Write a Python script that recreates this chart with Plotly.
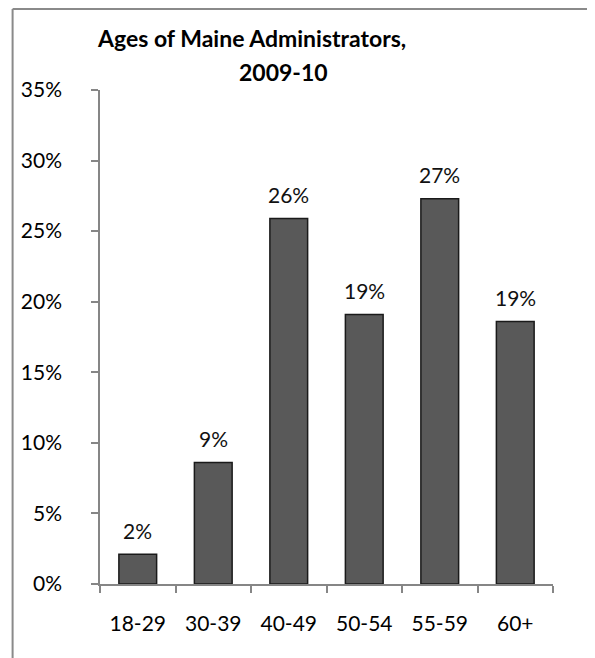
import plotly.graph_objects as go

categories = ["18-29", "30-39", "40-49", "50-54", "55-59", "60+"]
values = [2.1, 8.6, 25.9, 19.1, 27.3, 18.6]
labels = ["2%", "9%", "26%", "19%", "27%", "19%"]
title_lines = ["Ages of Maine Administrators,", "2009-10"]

OFF = 8  # page body margin
W, H = 595 - OFF, 658 - OFF
L, T = 100 - OFF, 90 - OFF
R = W - (553.5 - OFF)
B = H - (584 - OFF)
pw = W - L - R
ph = H - T - B

def px_x(x):
    return (x - OFF - L) / pw

def px_y(y):
    return (H - B - (y - OFF)) / ph

FONT = "Lato"
TS = 21

fig = go.Figure()
fig.add_trace(go.Bar(
    x=categories, y=values, width=0.5,
    marker=dict(color="#595959", line=dict(color="#1a1a1a", width=1.5)),
    hoverinfo="skip",
))

for c, v, t in zip(categories, values, labels):
    fig.add_annotation(x=c, y=v, text=t, showarrow=False, yshift=24,
                       yanchor="middle", font=dict(family=FONT, size=TS, color="#111"))

fig.add_annotation(xref="paper", yref="paper", x=px_x(252), y=px_y(38), text=title_lines[0],
                   showarrow=False, xanchor="center", yanchor="middle",
                   font=dict(family=FONT, size=23, color="#000", weight="bold"))
fig.add_annotation(xref="paper", yref="paper", x=px_x(284), y=px_y(72), text=title_lines[1],
                   showarrow=False, xanchor="center", yanchor="middle",
                   font=dict(family=FONT, size=23, color="#000", weight="bold"))

# outer frame
lc = "#8a8a8a"
fig.add_shape(type="line", xref="paper", yref="paper", x0=px_x(12.5), x1=px_x(12.5),
              y0=px_y(9), y1=px_y(670), line=dict(color=lc, width=2))
fig.add_shape(type="line", xref="paper", yref="paper", x0=px_x(12.5), x1=px_x(590),
              y0=px_y(9), y1=px_y(9), line=dict(color=lc, width=2))
fig.add_shape(type="line", xref="paper", yref="paper", x0=px_x(590), x1=px_x(590),
              y0=px_y(9), y1=px_y(670), line=dict(color="#444", width=1.5))

fig.update_layout(
    width=W, height=H,
    margin=dict(l=L, r=R, t=T, b=B, pad=0),
    paper_bgcolor="white", plot_bgcolor="white",
    showlegend=False,
    font=dict(family=FONT, size=TS, color="#000"),
    bargap=0.5,
)
fig.update_xaxes(
    showline=True, linecolor="#868686", linewidth=1.5,
    ticks="outside", tickson="boundaries", ticklen=7, tickcolor="#868686", tickwidth=1.5,
    ticklabelstandoff=20, showgrid=False, fixedrange=True,
    tickfont=dict(family=FONT, size=TS, color="#000"),
)
fig.update_yaxes(
    range=[0, 35], dtick=5, ticksuffix="%",
    showline=True, linecolor="#868686", linewidth=1.5,
    ticks="outside", ticklen=7, tickcolor="#868686", tickwidth=1.5,
    ticklabelstandoff=25, showgrid=False, zeroline=False, fixedrange=True,
    tickfont=dict(family=FONT, size=TS, color="#000"),
)

fig.write_html("out.html")
